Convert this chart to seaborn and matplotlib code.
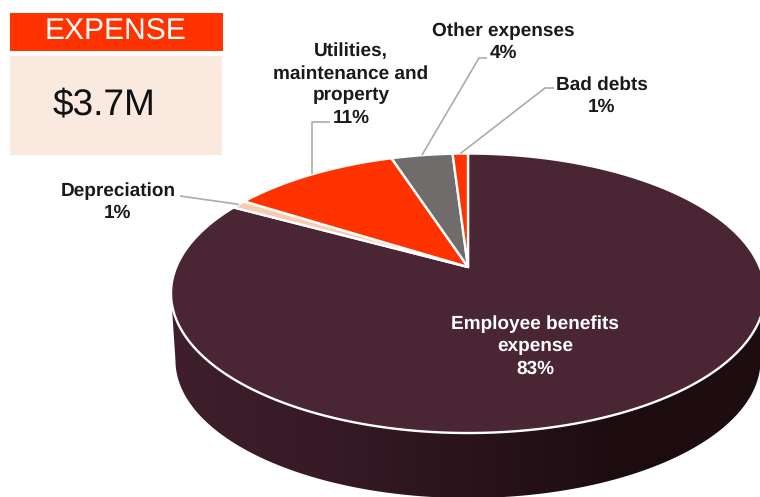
import numpy as np
import matplotlib
matplotlib.use("Agg")
import matplotlib.pyplot as plt
from matplotlib.colors import ListedColormap
from matplotlib.patches import Polygon
import seaborn as sns

# Expense breakdown, in percent, clockwise from twelve o'clock
categories = ["Employee benefits\nexpense", "Depreciation", "Utilities,\nmaintenance and\nproperty",
              "Other expenses", "Bad debts"]
shares = [83, 1, 11, 4, 1]
slice_colors = ["#4A2533", "#F6CDB2", "#FF3300", "#706C6C", "#FF3300"]
headline = "EXPENSE"
total = "$3.7M"

# Label placement: text centre (pixels) and leader elbow, if any
label_xy = [(535, 346.5), (118, 202), (351, 84.5), (503, 42), (602, 95.5)]
elbows = [None, (180, 196), (None, 122), (487, 58), (554, 88)]
elbow_mid = [None, None, (330, 122), (479, 58), (545, 88)]

sns.set_theme(style="white")
plt.rcParams["font.family"] = ["Liberation Sans", "DejaVu Sans"]
plt.rcParams["text.hinting"] = "no_hinting"
plt.rcParams["text.hinting_factor"] = 1

fig = plt.figure(figsize=(7.6, 4.97), dpi=100, facecolor="white")
ax = fig.add_axes([0, 0, 1, 1])
ax.axis("off")

# Perspective view of a disc: the front of the rim sits further from the hub
HUB = (468.0, 267.0)
PERSP, RX, RY = 0.188, 291.7, 134.8
DEPTH, BASE_SCALE = 67.5, 0.985


def project(theta, drop=0.0, scale=1.0):
    """Map a clockwise-from-top angle on the disc to canvas pixels."""
    u, v = np.sin(theta), np.cos(theta)
    den = 1 + PERSP * v
    return HUB[0] + scale * RX * u / den, HUB[1] + drop - scale * RY * v / den


# Side wall: a horizontal shade clipped to the visible front of the disc
wall_shades = sns.blend_palette(["#3E1F2B", "#371A26", "#29141B", "#1C0C10", "#1E0E12"], 256)
front = np.linspace(np.radians(100.8), np.radians(259.2), 240)
xt, yt = project(front)
xb, yb = project(front[::-1], drop=DEPTH, scale=BASE_SCALE)
outline = Polygon(np.c_[np.r_[xt, xb], np.r_[yt, yb]], closed=True, transform=ax.transData,
                  facecolor="none", edgecolor="none")
ax.add_patch(outline)
shade = ax.imshow(np.linspace(0, 1, 256)[None, :], extent=(171, 765, 497, 250), aspect="auto",
                  cmap=ListedColormap(wall_shades), zorder=1)
shade.set_clip_path(outline)

ax.set_xlim(0, 760)
ax.set_ylim(497, 0)

# Top face, one polygon per share
edges = np.cumsum([0] + shares) / sum(shares) * 2 * np.pi
for start, stop, color in zip(edges[:-1], edges[1:], slice_colors):
    t = np.linspace(start, stop, max(int((stop - start) * 120), 4))
    x, y = project(t)
    ax.fill(np.r_[HUB[0], x], np.r_[HUB[1], y], facecolor=color,
            edgecolor="white", lw=1.7, joinstyle="miter", zorder=2)

# Leader lines run from the rim at each slice's middle to its label
for i, (name, share) in enumerate(zip(categories, shares)):
    text = f"{name}\n{share}%"
    cx, cy = label_xy[i]
    ax.text(cx, cy, text, ha="center", va="center", fontsize=13.6, fontweight="bold",
            linespacing=1.32, color="white" if i == 0 else "#1A1A1A", zorder=4)
    if elbows[i] is None:
        continue
    rx, ry = project((edges[i] + edges[i + 1]) / 2)
    far = elbows[i]
    pts = [(rx, ry)]
    if far[0] is None:
        pts += [(rx, far[1]), elbow_mid[i]]
    else:
        if elbow_mid[i] is not None:
            pts.append(elbow_mid[i])
        pts.append(far)
    ax.plot(*zip(*pts), color="#ABABAB", lw=1.2, zorder=3, solid_capstyle="butt")

# Heading panel
ax.fill([10, 223, 223, 10], [13, 13, 51, 51], color="#FF3300", lw=0, zorder=2)
ax.fill([10, 222, 222, 10], [56, 56, 155, 155], color="#F9E9DE", lw=0, zorder=2)
ax.text(115, 32, headline, ha="center", va="center", fontsize=21.3, color="white", zorder=4)
ax.text(104, 105, total, ha="center", va="center", fontsize=26.7, color="#111111", zorder=4)

fig.savefig("out.png", dpi=100, facecolor="white")
